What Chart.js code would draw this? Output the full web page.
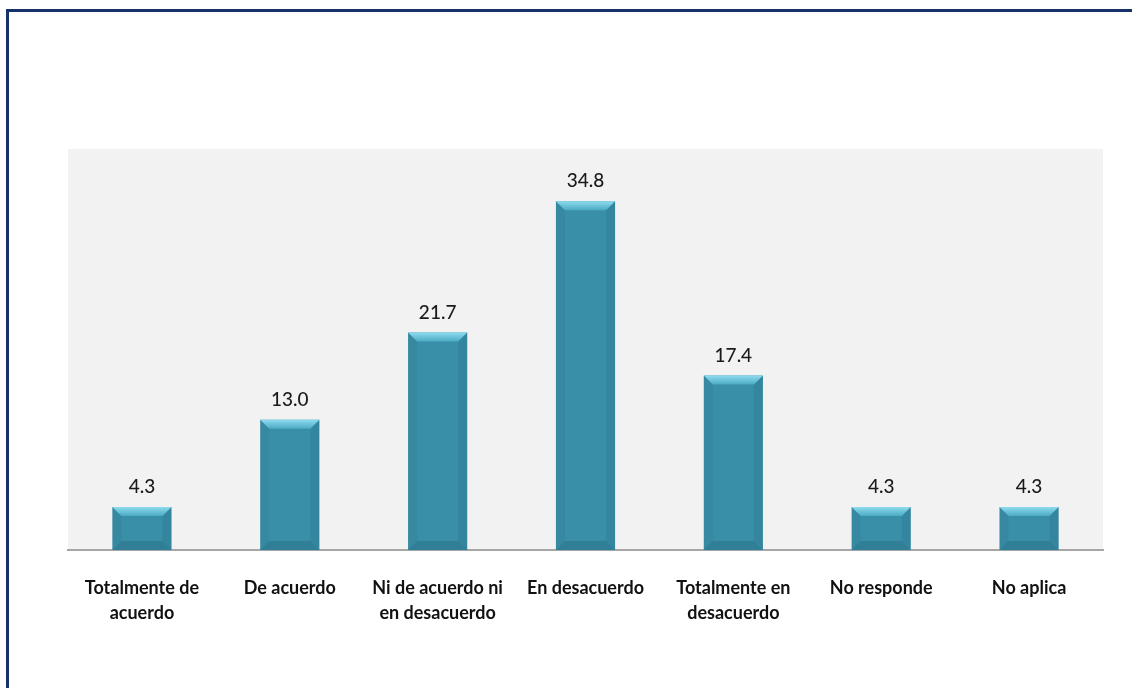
<!DOCTYPE html>
<html>
<head>
<meta charset="utf-8">
<script src="https://cdn.jsdelivr.net/npm/chart.js@4"></script>
<style>
  html, body { margin: 0; padding: 0; background: #fff; }
  #wrap { width: 1132px; height: 688px; position: relative; }
</style>
</head>
<body>
<div id="wrap"><canvas id="chart" width="1132" height="688"></canvas></div>
<script>
// survey answers, percent
const categories = [
  ["Totalmente de", "acuerdo"],
  "De acuerdo",
  ["Ni de acuerdo ni", "en desacuerdo"],
  "En desacuerdo",
  ["Totalmente en", "desacuerdo"],
  "No responde",
  "No aplica"
];
const percentages = [4.3, 13.0, 21.7, 34.8, 17.4, 4.3, 4.3];

const frame = {
  id: "frame",
  beforeDraw(chart) {
    const { ctx, chartArea: a } = chart;
    ctx.save();
    ctx.fillStyle = "#fff";
    ctx.fillRect(0, 0, chart.width, chart.height);
    ctx.strokeStyle = "#17326a";
    ctx.lineWidth = 3;
    ctx.strokeRect(7.5, 10.5, chart.width + 20, chart.height + 20);
    ctx.fillStyle = "#f2f2f2";
    ctx.fillRect(a.left, a.top, a.right - a.left, a.bottom - a.top);
    ctx.restore();
  }
};

// bevel on top / bottom edges of each bar, plus the value label
const bevel = {
  id: "bevel",
  afterDatasetsDraw(chart) {
    const { ctx } = chart;
    const meta = chart.getDatasetMeta(0);
    ctx.save();
    meta.data.forEach((bar, i) => {
      const l = bar.x - bar.width / 2, r = bar.x + bar.width / 2;
      const t = bar.y, b = bar.base, d = 9;
      ctx.fillStyle = "rgba(20,70,90,0.12)";
      ctx.beginPath();
      ctx.moveTo(r, t); ctx.lineTo(r, b); ctx.lineTo(r - d, b - d); ctx.lineTo(r - d, t + d);
      ctx.closePath(); ctx.fill();
      ctx.fillStyle = "rgba(20,70,90,0.08)";
      ctx.beginPath();
      ctx.moveTo(l, t); ctx.lineTo(l, b); ctx.lineTo(l + d, b - d); ctx.lineTo(l + d, t + d);
      ctx.closePath(); ctx.fill();
      ctx.fillStyle = "rgba(20,70,90,0.22)";
      ctx.beginPath();
      ctx.moveTo(l, b); ctx.lineTo(r, b); ctx.lineTo(r - d, b - d); ctx.lineTo(l + d, b - d);
      ctx.closePath(); ctx.fill();
      let g = ctx.createLinearGradient(0, t, 0, t + d);
      g.addColorStop(0, "#8fdcef");
      g.addColorStop(1, "#4aabc4");
      ctx.fillStyle = g;
      ctx.beginPath();
      ctx.moveTo(l, t); ctx.lineTo(r, t); ctx.lineTo(r - d, t + d); ctx.lineTo(l + d, t + d);
      ctx.closePath(); ctx.fill();
      ctx.fillStyle = "#1a1a1a";
      ctx.font = "500 19px Lato, 'Open Sans', sans-serif";
      ctx.textAlign = "center";
      ctx.textBaseline = "middle";
      ctx.fillText(percentages[i].toFixed(1), bar.x, t - 20);
    });
    ctx.restore();
  }
};

new Chart(document.getElementById("chart"), {
  type: "bar",
  data: {
    labels: categories,
    datasets: [{
      data: percentages,
      backgroundColor: "#3a8fa8",
      borderWidth: 0,
      barPercentage: 0.4,
      categoryPercentage: 1
    }]
  },
  options: {
    responsive: false,
    animation: false,
    layout: { padding: { left: 68, right: 29, top: 149, bottom: 0 } },
    plugins: { legend: { display: false }, tooltip: { enabled: false } },
    scales: {
      y: { display: false, min: 0, max: 40 },
      x: {
        grid: { display: false },
        border: { display: true, color: "#a6a6a6", width: 2 },
        ticks: {
          color: "#111",
          padding: 18,
          maxRotation: 0,
          autoSkip: false,
          font: { family: "Lato, 'Open Sans', sans-serif", size: 18, weight: "bold", lineHeight: 1.38 }
        },
        afterFit(scale) { scale.height = 138; }
      }
    }
  },
  plugins: [frame, bevel]
});
</script>
</body>
</html>
